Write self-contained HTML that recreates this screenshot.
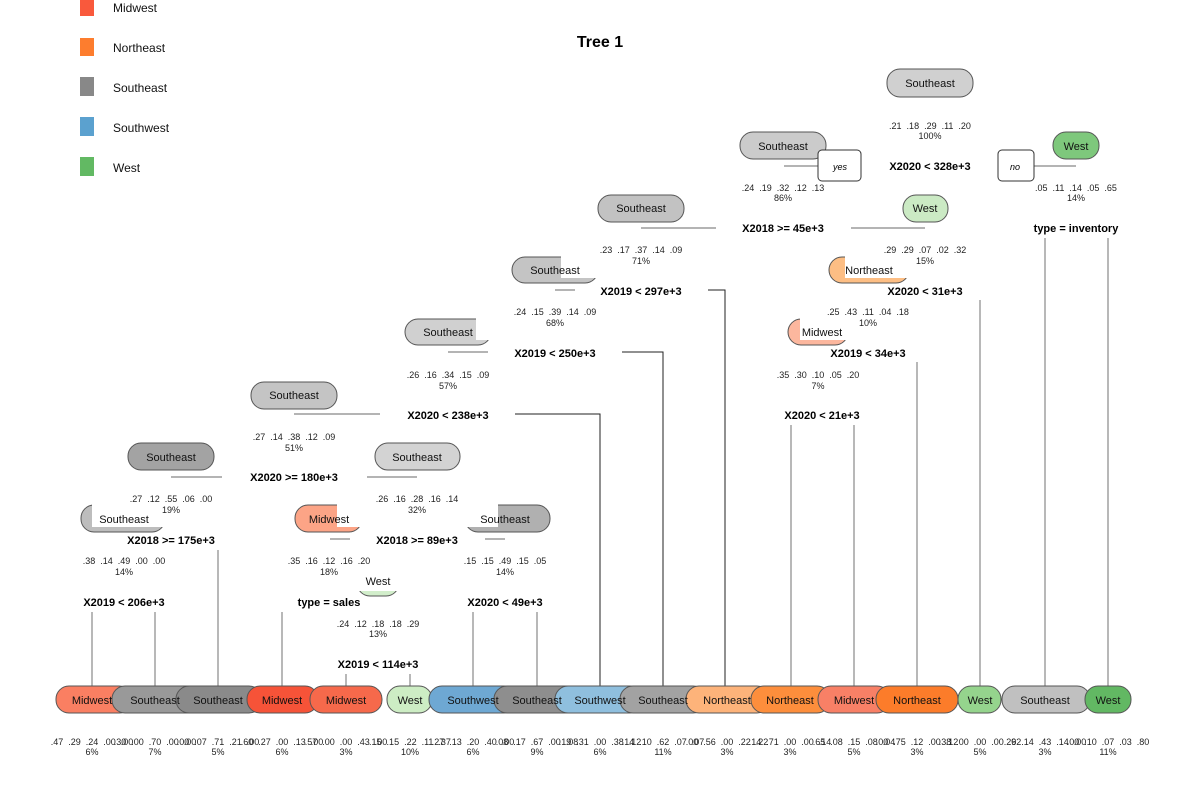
<!DOCTYPE html>
<html><head><meta charset="utf-8"><style>
html,body{margin:0;padding:0;background:#fff;}
svg{display:block;font-family:"Liberation Sans",Arial,sans-serif;}
.n{stroke:#555;stroke-width:1}
.t{font-size:11px;fill:#111;text-anchor:middle}
.s{font-size:9px;fill:#222;text-anchor:middle;word-spacing:2.5px}
.b{font-size:11px;font-weight:bold;fill:#000;text-anchor:middle}
.l{stroke:#888;stroke-width:1.2;fill:none}
.k{stroke:#222;stroke-width:1;fill:none}
</style></head><body>
<svg width="1200" height="800" viewBox="0 0 1200 800" xmlns="http://www.w3.org/2000/svg">
<rect x="80" y="0" width="14" height="16" fill="#f9593c"/>
<rect x="80" y="38" width="14" height="18" fill="#fd7d2e"/>
<rect x="80" y="77" width="14" height="19" fill="#888888"/>
<rect x="80" y="117" width="14" height="19" fill="#5ba1cf"/>
<rect x="80" y="157" width="14" height="19" fill="#62b963"/>
<g font-size="12" fill="#111">
<text x="113" y="12">Midwest</text>
<text x="113" y="52">Northeast</text>
<text x="113" y="92">Southeast</text>
<text x="113" y="132">Southwest</text>
<text x="113" y="172">West</text>
</g>
<text x="600" y="47" font-size="16" font-weight="bold" text-anchor="middle">Tree 1</text>

<g class="l">
<line x1="784" y1="166" x2="818" y2="166"/>
<line x1="1034" y1="166" x2="1076" y2="166"/>
<line x1="641" y1="228" x2="716" y2="228"/>
<line x1="851" y1="228" x2="925" y2="228"/>
<line x1="1045" y1="238" x2="1045" y2="688"/>
<line x1="1108" y1="238" x2="1108" y2="688"/>
<line x1="555" y1="290" x2="575" y2="290"/>
<line x1="980" y1="300" x2="980" y2="688"/>
<line x1="448" y1="352" x2="488" y2="352"/>
<line x1="917" y1="362" x2="917" y2="688"/>
<line x1="294" y1="414" x2="380" y2="414"/>
<line x1="791" y1="425" x2="791" y2="688"/>
<line x1="854" y1="425" x2="854" y2="688"/>
<line x1="171" y1="477" x2="222" y2="477"/>
<line x1="367" y1="477" x2="417" y2="477"/>
<line x1="218" y1="550" x2="218" y2="688"/>
<line x1="330" y1="539" x2="350" y2="539"/>
<line x1="485" y1="539" x2="505" y2="539"/>
<line x1="92" y1="612" x2="92" y2="688"/>
<line x1="155" y1="612" x2="155" y2="688"/>
<line x1="282" y1="612" x2="282" y2="688"/>
<line x1="473" y1="612" x2="473" y2="688"/>
<line x1="537" y1="612" x2="537" y2="688"/>
<line x1="346" y1="674" x2="346" y2="688"/>
<line x1="410" y1="674" x2="410" y2="688"/>
</g>
<g class="k">
<polyline points="708,290 725,290 725,688"/>
<polyline points="622,352 663,352 663,688"/>
<polyline points="515,414 600,414 600,688"/>
</g>

<rect class="n" x="887" y="69" width="86" height="28" rx="13" fill="#d0d0d0"/>
<text class="t" x="930" y="87">Southeast</text>
<rect class="n" x="740" y="132" width="86" height="27" rx="13" fill="#cbcbcb"/>
<text class="t" x="783" y="150">Southeast</text>
<rect class="n" x="1053" y="132" width="46" height="27" rx="13" fill="#7ec87c"/>
<text class="t" x="1076" y="150">West</text>
<rect x="818" y="150" width="43" height="31" rx="4" fill="#fff" stroke="#333"/>
<text x="840" y="170" font-size="9" font-style="italic" text-anchor="middle">yes</text>
<rect x="998" y="150" width="36" height="31" rx="4" fill="#fff" stroke="#333"/>
<text x="1015" y="170" font-size="9" font-style="italic" text-anchor="middle">no</text>

<rect class="n" x="598" y="195" width="86" height="27" rx="13" fill="#c2c2c2"/>
<text class="t" x="641" y="212">Southeast</text>
<rect class="n" x="903" y="195" width="45" height="27" rx="13" fill="#cbeac4"/>
<text class="t" x="925" y="212">West</text>

<rect class="n" x="512" y="257" width="86" height="26" rx="13" fill="#c4c4c4"/>
<rect x="561" y="255" width="40" height="23" fill="#fff"/>
<text class="t" x="555" y="274">Southeast</text>
<rect class="n" x="829" y="257" width="80" height="26" rx="13" fill="#fdbe84"/>
<rect x="845" y="255" width="66" height="23" fill="#fff"/>
<text class="t" x="869" y="274">Northeast</text>

<rect class="n" x="405" y="319" width="86" height="26" rx="13" fill="#d0d0d0"/>
<rect x="476" y="317" width="17" height="23" fill="#fff"/>
<text class="t" x="448" y="336">Southeast</text>
<rect class="n" x="788" y="319" width="60" height="26" rx="13" fill="#fcb79e"/>
<rect x="800" y="317" width="50" height="23" fill="#fff"/>
<text class="t" x="822" y="336">Midwest</text>

<rect class="n" x="251" y="382" width="86" height="27" rx="13" fill="#c4c4c4"/>
<text class="t" x="294" y="399">Southeast</text>

<rect class="n" x="128" y="443" width="86" height="27" rx="13" fill="#a3a3a3"/>
<text class="t" x="171" y="461">Southeast</text>
<rect class="n" x="375" y="443" width="85" height="27" rx="13" fill="#d3d3d3"/>
<text class="t" x="417" y="461">Southeast</text>

<rect class="n" x="81" y="505" width="84" height="27" rx="13" fill="#bdbdbd"/>
<rect x="92" y="503" width="76" height="24" fill="#fff"/>
<text class="t" x="124" y="523">Southeast</text>
<rect class="n" x="295" y="505" width="67" height="27" rx="13" fill="#fca486"/>
<rect x="337" y="503" width="28" height="24" fill="#fff"/>
<text class="t" x="329" y="523">Midwest</text>
<rect class="n" x="465" y="505" width="85" height="27" rx="13" fill="#b0b0b0"/>
<rect x="462" y="503" width="36" height="24" fill="#fff"/>
<text class="t" x="505" y="523">Southeast</text>

<rect class="n" x="357" y="570" width="42" height="26" rx="13" fill="#d2eecb"/>
<rect x="354" y="568" width="48" height="23" fill="#fff"/>
<text class="t" x="378" y="585">West</text>

<text class="b" x="930" y="170">X2020 &lt; 328e+3</text>
<text class="b" x="783" y="232">X2018 &gt;= 45e+3</text>
<text class="b" x="1076" y="232">type = inventory</text>
<text class="b" x="641" y="295">X2019 &lt; 297e+3</text>
<text class="b" x="925" y="295">X2020 &lt; 31e+3</text>
<text class="b" x="555" y="357">X2019 &lt; 250e+3</text>
<text class="b" x="868" y="357">X2019 &lt; 34e+3</text>
<text class="b" x="448" y="419">X2020 &lt; 238e+3</text>
<text class="b" x="822" y="419">X2020 &lt; 21e+3</text>
<text class="b" x="294" y="481">X2020 &gt;= 180e+3</text>
<text class="b" x="171" y="544">X2018 &gt;= 175e+3</text>
<text class="b" x="417" y="544">X2018 &gt;= 89e+3</text>
<text class="b" x="124" y="606">X2019 &lt; 206e+3</text>
<text class="b" x="329" y="606">type = sales</text>
<text class="b" x="505" y="606">X2020 &lt; 49e+3</text>
<text class="b" x="378" y="668">X2019 &lt; 114e+3</text>

<g class="s">
<text x="930" y="129">.21 .18 .29 .11 .20</text><text x="930" y="139">100%</text>
<text x="783" y="191">.24 .19 .32 .12 .13</text><text x="783" y="201">86%</text>
<text x="1076" y="191">.05 .11 .14 .05 .65</text><text x="1076" y="201">14%</text>
<text x="641" y="253">.23 .17 .37 .14 .09</text><text x="641" y="264">71%</text>
<text x="925" y="253">.29 .29 .07 .02 .32</text><text x="925" y="264">15%</text>
<text x="555" y="315">.24 .15 .39 .14 .09</text><text x="555" y="326">68%</text>
<text x="868" y="315">.25 .43 .11 .04 .18</text><text x="868" y="326">10%</text>
<text x="448" y="378">.26 .16 .34 .15 .09</text><text x="448" y="389">57%</text>
<text x="818" y="378">.35 .30 .10 .05 .20</text><text x="818" y="389">7%</text>
<text x="294" y="440">.27 .14 .38 .12 .09</text><text x="294" y="451">51%</text>
<text x="171" y="502">.27 .12 .55 .06 .00</text><text x="171" y="513">19%</text>
<text x="417" y="502">.26 .16 .28 .16 .14</text><text x="417" y="513">32%</text>
<text x="124" y="564">.38 .14 .49 .00 .00</text><text x="124" y="575">14%</text>
<text x="329" y="564">.35 .16 .12 .16 .20</text><text x="329" y="575">18%</text>
<text x="505" y="564">.15 .15 .49 .15 .05</text><text x="505" y="575">14%</text>
<text x="378" y="627">.24 .12 .18 .18 .29</text><text x="378" y="637">13%</text>
</g>

<g>
<rect class="n" x="56" y="686" width="76" height="27" rx="13" fill="#fa7f62"/>
<rect class="n" x="112" y="686" width="88" height="27" rx="13" fill="#999999"/>
<rect class="n" x="176" y="686" width="86" height="27" rx="13" fill="#8a8a8a"/>
<rect class="n" x="247" y="686" width="71" height="27" rx="13" fill="#f65338"/>
<rect class="n" x="310" y="686" width="72" height="27" rx="13" fill="#f6694b"/>
<rect class="n" x="387" y="686" width="45" height="27" rx="13" fill="#cdedc4"/>
<rect class="n" x="429" y="686" width="88" height="27" rx="13" fill="#6ea8d3"/>
<rect class="n" x="494" y="686" width="86" height="27" rx="13" fill="#8e8e8e"/>
<rect class="n" x="555" y="686" width="88" height="27" rx="13" fill="#8fbfde"/>
<rect class="n" x="620" y="686" width="86" height="27" rx="13" fill="#a2a2a2"/>
<rect class="n" x="686" y="686" width="84" height="27" rx="13" fill="#fdb37a"/>
<rect class="n" x="751" y="686" width="79" height="27" rx="13" fill="#fd8e3c"/>
<rect class="n" x="818" y="686" width="72" height="27" rx="13" fill="#f88066"/>
<rect class="n" x="876" y="686" width="82" height="27" rx="13" fill="#fc7c2a"/>
<rect class="n" x="958" y="686" width="43" height="27" rx="13" fill="#95d48d"/>
<rect class="n" x="1002" y="686" width="88" height="27" rx="13" fill="#c0c0c0"/>
<rect class="n" x="1085" y="686" width="46" height="27" rx="13" fill="#62b863"/>
</g>
<g class="t">
<text x="92" y="704">Midwest</text>
<text x="155" y="704">Southeast</text>
<text x="218" y="704">Southeast</text>
<text x="282" y="704">Midwest</text>
<text x="346" y="704">Midwest</text>
<text x="410" y="704">West</text>
<text x="473" y="704">Southwest</text>
<text x="537" y="704">Southeast</text>
<text x="600" y="704">Southwest</text>
<text x="663" y="704">Southeast</text>
<text x="727" y="704">Northeast</text>
<text x="790" y="704">Northeast</text>
<text x="854" y="704">Midwest</text>
<text x="917" y="704">Northeast</text>
<text x="980" y="704">West</text>
<text x="1045" y="704">Southeast</text>
<text x="1108" y="704">West</text>
</g>
<g class="s" font-size="8.5">
<text x="92" y="745">.47 .29 .24 .00 .00</text><text x="92" y="755">6%</text>
<text x="155" y="745">.30 .00 .70 .00 .00</text><text x="155" y="755">7%</text>
<text x="218" y="745">.00 .07 .71 .21 .00</text><text x="218" y="755">5%</text>
<text x="282" y="745">.60 .27 .00 .13 .00</text><text x="282" y="755">6%</text>
<text x="346" y="745">.57 .00 .00 .43 .00</text><text x="346" y="755">3%</text>
<text x="410" y="745">.15 .15 .22 .11 .37</text><text x="410" y="755">10%</text>
<text x="473" y="745">.27 .13 .20 .40 .00</text><text x="473" y="755">6%</text>
<text x="537" y="745">.08 .17 .67 .00 .08</text><text x="537" y="755">9%</text>
<text x="600" y="745">.19 .31 .00 .38 .12</text><text x="600" y="755">6%</text>
<text x="663" y="745">.14 .10 .62 .07 .07</text><text x="663" y="755">11%</text>
<text x="727" y="745">.00 .56 .00 .22 .22</text><text x="727" y="755">3%</text>
<text x="790" y="745">.14 .71 .00 .00 .14</text><text x="790" y="755">3%</text>
<text x="854" y="745">.65 .08 .15 .08 .04</text><text x="854" y="755">5%</text>
<text x="917" y="745">.00 .75 .12 .00 .12</text><text x="917" y="755">3%</text>
<text x="980" y="745">.38 .00 .00 .00 .62</text><text x="980" y="755">5%</text>
<text x="1045" y="745">.29 .14 .43 .14 .00</text><text x="1045" y="755">3%</text>
<text x="1108" y="745">.00 .10 .07 .03 .80</text><text x="1108" y="755">11%</text>
</g>
</svg>
</body></html>
